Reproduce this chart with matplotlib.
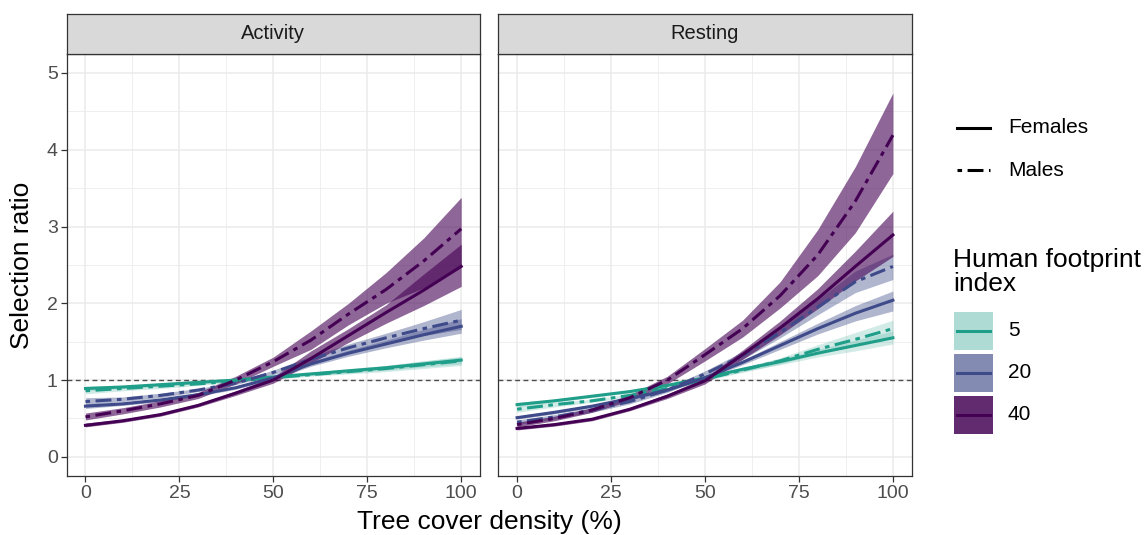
import matplotlib

matplotlib.use("Agg")
import matplotlib.pyplot as plt
from matplotlib.patches import Rectangle
from matplotlib.ticker import MultipleLocator

plt.rcParams["font.family"] = ["Liberation Sans", "DejaVu Sans"]

# tree cover density (%) at which the fitted curves were read
tree_cover = [0, 10, 20, 30, 40, 50, 60, 70, 80, 90, 100]

# Activity panel: fitted selection ratio and ribbon bounds
act_f5 = [0.89, 0.91, 0.94, 0.97, 1.00, 1.04, 1.08, 1.12, 1.16, 1.21, 1.26]
act_f5_lo = [0.86, 0.89, 0.92, 0.95, 0.98, 1.02, 1.06, 1.09, 1.13, 1.17, 1.21]
act_f5_hi = [0.92, 0.93, 0.96, 0.99, 1.02, 1.06, 1.10, 1.15, 1.19, 1.25, 1.30]
act_m5 = [0.86, 0.89, 0.92, 0.95, 0.99, 1.03, 1.07, 1.11, 1.15, 1.20, 1.25]
act_m5_lo = [0.82, 0.86, 0.89, 0.93, 0.97, 1.01, 1.05, 1.08, 1.11, 1.15, 1.19]
act_m5_hi = [0.90, 0.92, 0.95, 0.97, 1.01, 1.05, 1.09, 1.14, 1.19, 1.25, 1.31]
act_f20 = [0.66, 0.69, 0.74, 0.81, 0.90, 1.03, 1.21, 1.35, 1.47, 1.59, 1.70]
act_f20_lo = [0.63, 0.67, 0.72, 0.79, 0.88, 1.01, 1.18, 1.31, 1.42, 1.52, 1.61]
act_f20_hi = [0.69, 0.71, 0.76, 0.83, 0.92, 1.05, 1.24, 1.39, 1.52, 1.66, 1.80]
act_m20 = [0.72, 0.75, 0.80, 0.87, 0.96, 1.10, 1.27, 1.42, 1.55, 1.67, 1.78]
act_m20_lo = [0.68, 0.72, 0.77, 0.85, 0.94, 1.07, 1.23, 1.37, 1.49, 1.58, 1.66]
act_m20_hi = [0.77, 0.78, 0.83, 0.89, 0.98, 1.13, 1.31, 1.47, 1.61, 1.76, 1.92]
act_f40 = [0.41, 0.47, 0.55, 0.67, 0.83, 1.00, 1.28, 1.58, 1.88, 2.17, 2.48]
act_f40_lo = [0.39, 0.45, 0.53, 0.65, 0.80, 0.96, 1.22, 1.49, 1.74, 1.97, 2.22]
act_f40_hi = [0.44, 0.49, 0.57, 0.69, 0.86, 1.04, 1.38, 1.67, 1.98, 2.38, 2.77]
act_m40 = [0.52, 0.60, 0.69, 0.80, 1.00, 1.24, 1.52, 1.86, 2.18, 2.55, 2.97]
act_m40_lo = [0.48, 0.56, 0.65, 0.76, 0.95, 1.18, 1.40, 1.72, 2.00, 2.20, 2.50]
act_m40_hi = [0.57, 0.64, 0.73, 0.84, 1.05, 1.30, 1.64, 2.00, 2.40, 2.85, 3.38]

# Resting panel
res_f5 = [0.68, 0.73, 0.79, 0.85, 0.93, 1.03, 1.14, 1.24, 1.35, 1.45, 1.55]
res_f5_lo = [0.65, 0.71, 0.77, 0.83, 0.91, 1.01, 1.11, 1.20, 1.30, 1.38, 1.47]
res_f5_hi = [0.71, 0.75, 0.81, 0.87, 0.95, 1.05, 1.17, 1.28, 1.40, 1.52, 1.64]
res_m5 = [0.62, 0.68, 0.73, 0.80, 0.89, 1.01, 1.13, 1.25, 1.40, 1.53, 1.67]
res_m5_lo = [0.58, 0.65, 0.71, 0.78, 0.87, 0.99, 1.10, 1.21, 1.34, 1.45, 1.57]
res_m5_hi = [0.66, 0.71, 0.75, 0.82, 0.91, 1.03, 1.16, 1.29, 1.46, 1.62, 1.78]
res_f20 = [0.51, 0.58, 0.66, 0.76, 0.87, 1.03, 1.23, 1.45, 1.67, 1.87, 2.04]
res_f20_lo = [0.49, 0.56, 0.64, 0.74, 0.85, 1.01, 1.20, 1.40, 1.60, 1.77, 1.90]
res_f20_hi = [0.53, 0.60, 0.68, 0.78, 0.89, 1.05, 1.26, 1.50, 1.74, 1.97, 2.16]
res_m20 = [0.45, 0.52, 0.61, 0.72, 0.87, 1.08, 1.32, 1.62, 1.95, 2.28, 2.48]
res_m20_lo = [0.42, 0.49, 0.58, 0.69, 0.84, 1.04, 1.27, 1.55, 1.85, 2.14, 2.31]
res_m20_hi = [0.48, 0.55, 0.64, 0.75, 0.90, 1.12, 1.37, 1.69, 2.05, 2.42, 2.64]
res_f40 = [0.37, 0.42, 0.49, 0.62, 0.79, 0.99, 1.33, 1.68, 2.06, 2.48, 2.89]
res_f40_lo = [0.35, 0.40, 0.47, 0.60, 0.76, 0.95, 1.27, 1.59, 1.93, 2.29, 2.61]
res_f40_hi = [0.39, 0.44, 0.51, 0.64, 0.82, 1.03, 1.39, 1.77, 2.19, 2.68, 3.20]
res_m40 = [0.42, 0.50, 0.61, 0.77, 1.00, 1.33, 1.67, 2.10, 2.63, 3.33, 4.19]
res_m40_lo = [0.39, 0.47, 0.58, 0.73, 0.95, 1.25, 1.56, 1.94, 2.36, 2.92, 3.69]
res_m40_hi = [0.45, 0.53, 0.64, 0.81, 1.05, 1.41, 1.78, 2.28, 2.96, 3.78, 4.74]

panels = ["Activity", "Resting"]
sexes = ["Females", "Males"]
hfi_levels = [5, 20, 40]
hfi_colors = ["#1f9e89", "#3e4a89", "#440154"]
hfi_alpha = [0.2, 0.4, 0.6]
sex_styles = ["-", (0, (1.5, 1.8, 5.2, 1.8))]

SERIES = {
    ("Activity", "Females", 5): (act_f5, act_f5_lo, act_f5_hi),
    ("Activity", "Males", 5): (act_m5, act_m5_lo, act_m5_hi),
    ("Activity", "Females", 20): (act_f20, act_f20_lo, act_f20_hi),
    ("Activity", "Males", 20): (act_m20, act_m20_lo, act_m20_hi),
    ("Activity", "Females", 40): (act_f40, act_f40_lo, act_f40_hi),
    ("Activity", "Males", 40): (act_m40, act_m40_lo, act_m40_hi),
    ("Resting", "Females", 5): (res_f5, res_f5_lo, res_f5_hi),
    ("Resting", "Males", 5): (res_m5, res_m5_lo, res_m5_hi),
    ("Resting", "Females", 20): (res_f20, res_f20_lo, res_f20_hi),
    ("Resting", "Males", 20): (res_m20, res_m20_lo, res_m20_hi),
    ("Resting", "Females", 40): (res_f40, res_f40_lo, res_f40_hi),
    ("Resting", "Males", 40): (res_m40, res_m40_lo, res_m40_hi),
}

W, H = 1147, 535
LINE_W = 2.2
GRID = "#ebebeb"
DARK = "#333333"


def px_box(x0, y0, x1, y1):
    return [x0 / W, 1 - y1 / H, (x1 - x0) / W, (y1 - y0) / H]


def style_panel(ax, show_y):
    ax.set_xlim(-5, 105)
    ax.set_ylim(-0.25, 5.25)
    ax.xaxis.set_major_locator(MultipleLocator(25))
    ax.xaxis.set_minor_locator(MultipleLocator(12.5))
    ax.yaxis.set_major_locator(MultipleLocator(1))
    ax.yaxis.set_minor_locator(MultipleLocator(0.5))
    ax.grid(which="major", color=GRID, linewidth=1.1)
    ax.grid(which="minor", color=GRID, linewidth=0.55)
    ax.set_axisbelow(True)
    for spine in ax.spines.values():
        spine.set_color(DARK)
        spine.set_linewidth(0.9)
    ax.tick_params(which="major", length=4.5, width=0.9, color=DARK, labelsize=14, labelcolor="#4d4d4d", pad=2)
    ax.tick_params(which="minor", length=0)
    if not show_y:
        ax.tick_params(axis="y", left=False, labelleft=False)


def add_strip(fig, x0, x1, title):
    strip = fig.add_axes(px_box(x0, 13.7, x1, 53.8))
    strip.set_facecolor("#d9d9d9")
    strip.set_xticks([])
    strip.set_yticks([])
    for spine in strip.spines.values():
        spine.set_color(DARK)
        spine.set_linewidth(0.9)
    strip.text(0.5, 0.5, title, ha="center", va="center", fontsize=14.5, color="#1a1a1a", transform=strip.transAxes)


def draw_panel(ax, panel):
    ax.axhline(1, color="#4d4d4d", linewidth=1.0, linestyle=(0, (3.5, 2.5)), zorder=1)
    for level, color, alpha in zip(hfi_levels, hfi_colors, hfi_alpha):
        for sex in sexes:
            _, lo, hi = SERIES[(panel, sex, level)]
            ax.fill_between(tree_cover, lo, hi, color=color, alpha=alpha, linewidth=0, zorder=2)
    for level, color in zip(hfi_levels, hfi_colors):
        for sex, style in zip(sexes, sex_styles):
            fit, _, _ = SERIES[(panel, sex, level)]
            ax.plot(tree_cover, fit, color=color, linewidth=LINE_W, linestyle=style, zorder=3)


def draw_legend(fig):
    leg = fig.add_axes([0, 0, 1, 1])
    leg.set_xlim(0, W)
    leg.set_ylim(H, 0)
    leg.axis("off")
    for i, (sex, style) in enumerate(zip(sexes, sex_styles)):
        y = 127.7 + 42.3 * i
        leg.plot([956.7, 990], [y, y], color="black", linewidth=LINE_W, linestyle=style)
        leg.text(1008, y, sex, ha="left", va="center", fontsize=15, color="black")
    leg.text(953, 272, "Human footprint\nindex", ha="left", va="center", fontsize=19, color="black", linespacing=1.05)
    for i, (level, color, alpha) in enumerate(zip(hfi_levels, hfi_colors, hfi_alpha)):
        y0 = 311.7 + 42 * i
        # two overlapping ribbons (females + males) in the key
        key_alpha = 1 - (1 - alpha) ** 2
        leg.add_patch(Rectangle((954.3, y0), 38.4, 38.3, facecolor=color, alpha=key_alpha, linewidth=0))
        leg.plot([957, 990], [y0 + 19.2, y0 + 19.2], color=color, linewidth=LINE_W)
        leg.text(1008, y0 + 19.2, str(level), ha="left", va="center", fontsize=15, color="black")


def main():
    fig = plt.figure(figsize=(W / 100, H / 100), dpi=100)
    bounds = [(66.7, 480.0), (498.3, 911.7)]
    for i, (panel, (x0, x1)) in enumerate(zip(panels, bounds)):
        ax = fig.add_axes(px_box(x0, 53.8, x1, 476.0))
        style_panel(ax, show_y=(i == 0))
        draw_panel(ax, panel)
        add_strip(fig, x0, x1, panel)
    fig.text(22 / W, 1 - 265 / H, "Selection ratio", rotation=90, ha="center", va="center", fontsize=19, color="black")
    fig.text(489 / W, 1 - 522 / H, "Tree cover density (%)", ha="center", va="center", fontsize=19, color="black")
    draw_legend(fig)
    fig.savefig("out.png", dpi=100)
    plt.close(fig)


if __name__ == "__main__":
    main()
